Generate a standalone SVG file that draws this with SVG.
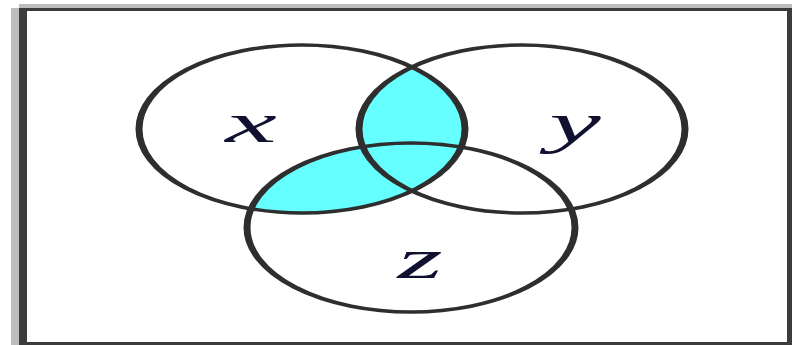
<svg xmlns="http://www.w3.org/2000/svg" width="792" height="345" viewBox="0 0 792 345">
  <style>
    .edge { fill: none; stroke: #2e2e2e; stroke-width: 3.5; }
    .shade { fill: #66ffff; stroke: none; }
    .lbl { font-family: "Liberation Serif", "Times New Roman", serif; font-style: italic; font-size: 58px; fill: #101030; text-anchor: middle; }
  </style>
  <defs>
    <clipPath id="clipX">
      <ellipse cx="151" cy="129" rx="81.5" ry="84"/>
    </clipPath>
  </defs>
  <rect width="792" height="345" fill="#ffffff"/>
  <g id="frame">
    <rect x="11" y="8" width="8" height="337" fill="#bdbdbd"/>
    <rect x="19" y="4" width="773" height="4" fill="#bdbdbd"/>
    <rect x="19" y="8" width="8" height="337" fill="#3c3c3c"/>
    <rect x="19" y="8" width="773" height="3" fill="#3c3c3c"/>
    <rect x="787" y="11" width="5" height="334" fill="#3c3c3c"/>
    <rect x="27" y="342" width="760" height="3" fill="#3c3c3c"/>
  </g>
  <g transform="scale(2,1)">
    <g id="shaded" clip-path="url(#clipX)">
      <ellipse class="shade" cx="261" cy="129" rx="81.5" ry="84"/>
      <ellipse class="shade" cx="205.5" cy="227.5" rx="82" ry="84.5"/>
    </g>
    <g id="X">
      <ellipse class="edge" cx="151" cy="129" rx="81.5" ry="84"/>
      <text class="lbl" x="125.5" y="142">x</text>
    </g>
    <g id="Y">
      <ellipse class="edge" cx="261" cy="129" rx="81.5" ry="84"/>
      <text class="lbl" x="287.5" y="142">y</text>
    </g>
    <g id="Z">
      <ellipse class="edge" cx="205.5" cy="227.5" rx="82" ry="84.5"/>
      <text class="lbl" x="210" y="278">z</text>
    </g>
    <g id="connectors"/>
  </g>
</svg>
